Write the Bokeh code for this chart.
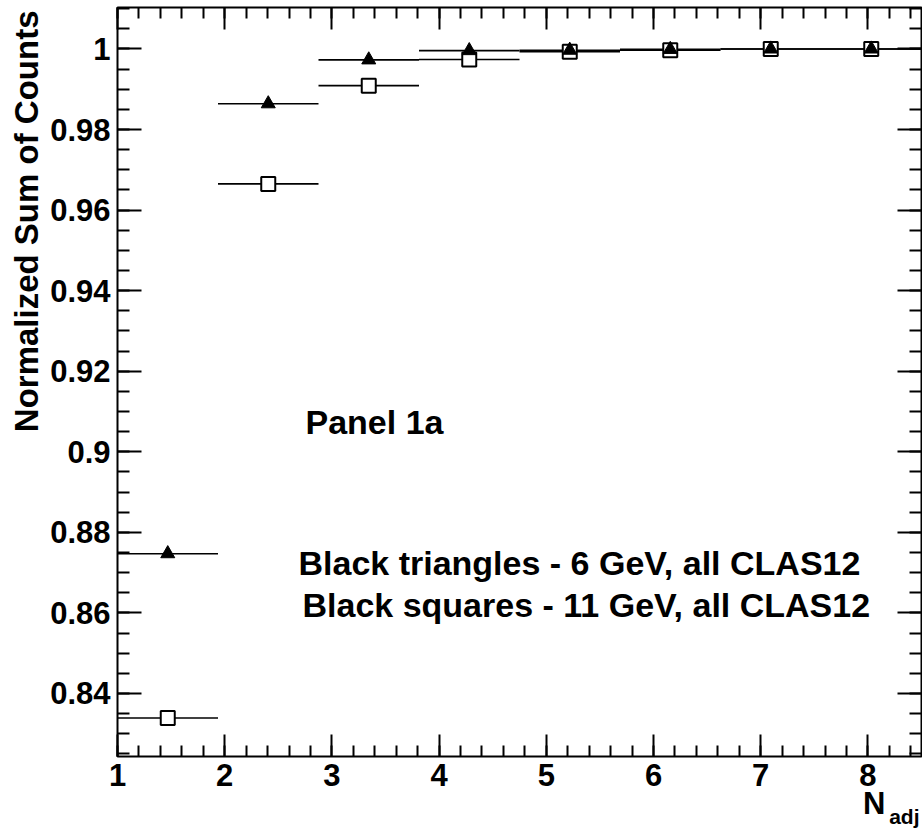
import math
from bokeh.plotting import figure
from bokeh.models import (LinearAxis, SingleIntervalTicker, NumeralTickFormatter,
                          CustomJSTickFormatter, Label, Title, Range1d, ColumnDataSource)
from bokeh.embed import file_html
from bokeh.resources import INLINE

# ---- data ----
bin_edges = [1.0, 1.9375, 2.875, 3.8125, 4.75, 5.6875, 6.625, 7.5625, 8.5]
sum_6gev = [0.8747, 0.9864, 0.9973, 0.9996, 0.9997, 0.9999, 1.0, 1.0]
sum_11gev = [0.8339, 0.9665, 0.9909, 0.9974, 0.9993, 0.9997, 1.0, 1.0]

x_title = "N"
x_title_sub = "adj"
y_title = "Normalized Sum of Counts"
panel_text = "Panel 1a"
note_6gev = "Black triangles - 6 GeV, all CLAS12"
note_11gev = "Black squares - 11 GeV, all CLAS12"

x_lo = bin_edges[:-1]
x_hi = bin_edges[1:]
x_mid = [(a + b) / 2 for a, b in zip(x_lo, x_hi)]

src6 = ColumnDataSource(dict(x=x_mid, lo=x_lo, hi=x_hi, y=sum_6gev))
src11 = ColumnDataSource(dict(x=x_mid, lo=x_lo, hi=x_hi, y=sum_11gev))

FONT = "Liberation Sans"

p = figure(width=922, height=832,
           x_range=Range1d(1, 8.5), y_range=Range1d(0.82435, 1.0103),
           output_backend="svg", toolbar_location=None,
           min_border_left=117, min_border_right=1,
           min_border_top=7, min_border_bottom=76)

p.grid.visible = False
p.outline_line_color = "black"
p.outline_line_width = 2
p.background_fill_color = "white"
p.border_fill_color = "white"


def style_axis(ax, ticker, major_in, minor_in, labels=True, standoff=7):
    ax.ticker = ticker
    ax.axis_line_color = None
    ax.major_tick_in = major_in
    ax.major_tick_out = 0
    ax.minor_tick_in = minor_in
    ax.minor_tick_out = 0
    ax.major_tick_line_color = "black"
    ax.minor_tick_line_color = "black"
    ax.major_tick_line_width = 2
    ax.minor_tick_line_width = 2
    ax.major_label_text_font = FONT
    ax.major_label_text_font_style = "bold"
    ax.major_label_text_color = "black"
    if labels:
        ax.major_label_text_font_size = "31px"
        ax.major_label_standoff = standoff
    else:
        ax.formatter = CustomJSTickFormatter(code="return ''")
        ax.major_label_text_font_size = "1px"
        ax.major_label_standoff = 0


xa = p.xaxis[0]
ya = p.yaxis[0]
style_axis(xa, SingleIntervalTicker(interval=1, num_minor_ticks=5), 22, 11, True, 7)
style_axis(ya, SingleIntervalTicker(interval=0.02, num_minor_ticks=4), 24, 12, True, 7)
ya.formatter = NumeralTickFormatter(format="0.[00]")

top = LinearAxis()
style_axis(top, SingleIntervalTicker(interval=1, num_minor_ticks=5), 22, 11, False)
p.add_layout(top, "above")
right = LinearAxis()
style_axis(right, SingleIntervalTicker(interval=0.02, num_minor_ticks=4), 24, 12, False)
p.add_layout(right, "right")

# horizontal bin-width bars
p.segment(x0="lo", x1="hi", y0="y", y1="y", source=src6, line_color="black", line_width=1.6)
p.segment(x0="lo", x1="hi", y0="y", y1="y", source=src11, line_color="black", line_width=1.6)
# markers
p.scatter("x", "y", source=src11, marker="square", size=14,
          fill_color="white", line_color="black", line_width=2)
p.scatter("x", "y", source=src6, marker="triangle", size=14,
          fill_color="black", line_color="black", line_width=1)

# axis titles (ROOT style: at the end of the axis)
p.add_layout(Title(text=y_title, align="right", offset=3, standoff=6,
                   text_font=FONT, text_font_style="bold", text_font_size="33px",
                   text_color="black"), "left")
p.add_layout(Title(text=x_title, align="right", offset=36, standoff=-5,
                   vertical_align="top",
                   text_font=FONT, text_font_style="bold", text_font_size="31px",
                   text_color="black"), "below")
p.add_layout(Title(text=x_title_sub, align="right", offset=2, standoff=-32,
                   vertical_align="top",
                   text_font=FONT, text_font_style="bold", text_font_size="21px",
                   text_color="black"), "below")


def add_label(text, x, y, size):
    p.add_layout(Label(x=x, y=y, x_units="screen", y_units="screen", text=text,
                       text_align="left", text_baseline="middle",
                       text_font=FONT, text_font_style="bold",
                       text_font_size=size, text_color="black"))


add_label(panel_text, 188, 334.5, "34px")
add_label(note_6gev, 181, 193.5, "34px")
add_label(note_11gev, 185, 151.5, "34px")

open("out.html", "w").write(file_html(p, INLINE))
